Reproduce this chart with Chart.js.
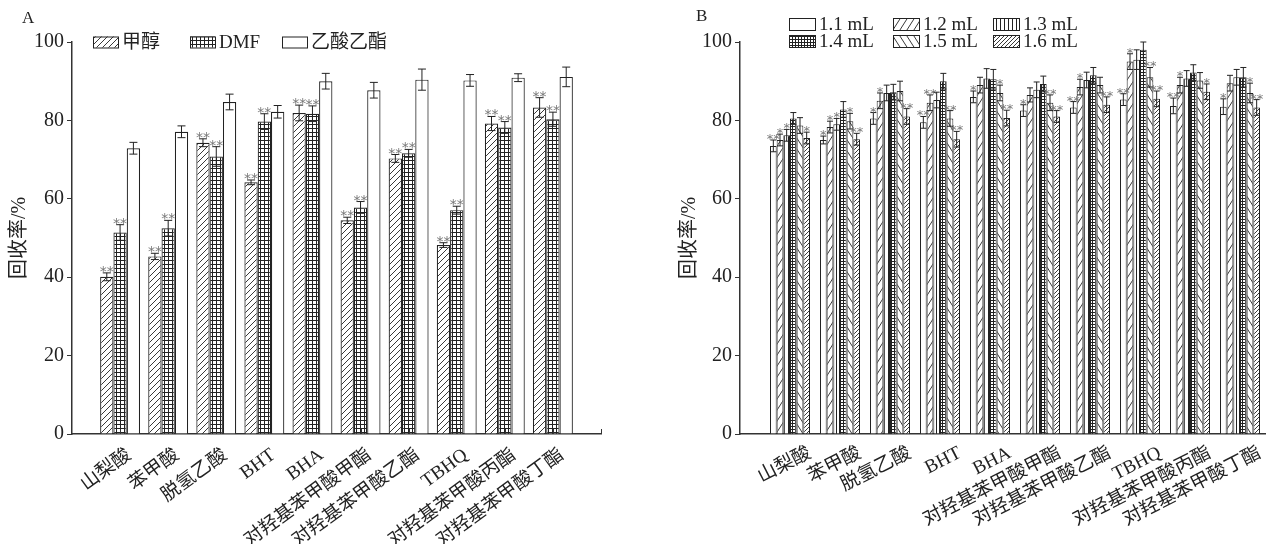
<!DOCTYPE html>
<html><head><meta charset="utf-8">
<script src="https://cdn.jsdelivr.net/npm/chart.js@4.4.1/dist/chart.umd.min.js"></script>
<style>
html,body{margin:0;padding:0;background:#fff;overflow:hidden;width:1266px;height:544px;position:relative;}
#wa{position:absolute;left:0;top:0;width:650px;height:544px;}
#wb{position:absolute;left:660px;top:0;width:680px;height:544px;}
</style></head><body>
<div id="wa"><canvas id="ca"></canvas></div>
<div id="wb"><canvas id="cb"></canvas></div>
<script>
// ---------- data ----------
const categories = ['山梨酸','苯甲酸','脱氢乙酸','BHT','BHA','对羟基苯甲酸甲酯','对羟基苯甲酸乙酯','TBHQ','对羟基苯甲酸丙酯','对羟基苯甲酸丁酯'];
const yTicks = [0, 20, 40, 60, 80, 100];

// Panel A
const seriesA = ['甲醇', 'DMF', '乙酸乙酯'];
const methanol     = [40.1, 45.3, 74.3, 64.2, 81.9, 54.5, 70.3, 48.2, 79.2, 83.3];
const methanolErr  = [1.0, 0.8, 1.0, 0.6, 2.0, 0.8, 1.0, 0.6, 1.8, 2.5];
const dmf          = [51.4, 52.5, 70.8, 79.7, 81.7, 57.8, 71.6, 57.1, 78.2, 80.3];
const dmfErr       = [2.0, 2.0, 2.5, 2.0, 2.0, 1.5, 1.0, 1.0, 1.5, 1.8];
const ethylAcetate = [72.9, 77.1, 84.7, 82.2, 90.0, 87.7, 90.4, 90.2, 90.9, 91.1];
const ethylAcetateErr = [1.5, 1.5, 2.0, 1.6, 2.0, 2.0, 2.7, 1.5, 1.0, 2.5];
const methanolStars = ['**','**','**','**','**','**','**','**','**','**'];
const dmfStars      = ['**','**','**','**','**','**','**','**','**','**'];
const ethylAcetateStars = ['','','','','','','','','',''];

// Panel B
const seriesB = ['1.1 mL', '1.2 mL', '1.3 mL', '1.4 mL', '1.5 mL', '1.6 mL'];
const v11 = [73.5, 75.0, 80.5, 79.5, 86.0, 82.5, 83.3, 85.3, 83.7, 83.5];
const v12 = [75.0, 78.3, 85.0, 84.5, 89.0, 86.5, 88.5, 95.0, 89.0, 89.5];
const v13 = [76.2, 79.0, 87.0, 85.2, 90.7, 87.8, 90.3, 95.5, 90.7, 91.0];
const v14 = [80.5, 82.8, 87.2, 90.0, 90.5, 89.3, 91.5, 98.0, 92.2, 91.0];
const v15 = [78.7, 79.8, 87.5, 80.5, 87.0, 84.5, 89.0, 91.0, 90.2, 87.0];
const v16 = [75.5, 75.2, 81.0, 75.2, 80.6, 81.0, 84.0, 85.5, 87.3, 83.3];
const e11 = [1.5, 1.0, 1.5, 1.5, 1.5, 1.5, 1.5, 1.5, 2.0, 2.0];
const e12 = [1.5, 1.5, 2.0, 2.0, 2.0, 1.8, 2.0, 2.0, 2.0, 2.0];
const e13 = [1.5, 1.5, 2.0, 2.0, 2.5, 2.0, 2.0, 2.5, 2.0, 2.0];
const e14 = [1.5, 2.0, 2.0, 2.0, 2.5, 2.0, 2.0, 2.0, 2.0, 2.5];
const e15 = [2.0, 2.0, 2.5, 2.0, 2.0, 2.0, 2.0, 2.5, 2.0, 2.5];
const e16 = [1.5, 1.5, 2.0, 2.0, 2.0, 1.5, 2.0, 2.0, 2.0, 2.0];
const s11 = ['**','*','*','**','*','*','**','**','**','*'];
const s12 = ['*','*','*','**','','','*','*','*',''];
const s13 = ['*','*','','','','','','','',''];
const s14 = ['','','','','','','','','',''];
const s15 = ['','*','','**','*','**','','**','','*'];
const s16 = ['*','**','**','**','**','**','**','**','*','**'];

// ---------- helpers ----------
const FONT = '"Liberation Serif", "Noto Sans CJK SC", serif';
Chart.defaults.font.family = FONT;
Chart.defaults.color = '#222';

function pad(arr, fill) { return [fill].concat(arr, [fill]); }

function makePattern(ctx, type) {
  const t = document.createElement('canvas');
  let w = 6, h = 6;
  if (type === 'slash') { w = 6; h = 6; }
  if (type === 'dslash') { w = 4; h = 4; }
  if (type === 'grid') { w = 4; h = 4; }
  if (type === 'grid3') { w = 3; h = 3; }
  if (type === 'steep') { w = 7; h = 11; }
  if (type === 'back') { w = 7; h = 11; }
  if (type === 'vert') { w = 4; h = 4; }
  t.width = w; t.height = h;
  const c = t.getContext('2d');
  c.fillStyle = '#fff'; c.fillRect(0, 0, w, h);
  c.strokeStyle = '#222'; c.lineWidth = 0.9;
  c.beginPath();
  if (type === 'slash' || type === 'dslash' || type === 'steep') {
    c.moveTo(-w, 2 * h); c.lineTo(2 * w, -h);
    c.moveTo(-2 * w, 2 * h); c.lineTo(w, -h);
    c.moveTo(0, 2 * h); c.lineTo(3 * w, -h);
  } else if (type === 'back') {
    c.moveTo(-w, -h); c.lineTo(2 * w, 2 * h);
    c.moveTo(-2 * w, -h); c.lineTo(w, 2 * h);
    c.moveTo(0, -h); c.lineTo(3 * w, 2 * h);
  } else if (type === 'grid' || type === 'grid3') {
    c.lineWidth = 1;
    c.moveTo(0.5, 0); c.lineTo(0.5, h);
    c.moveTo(0, 0.5); c.lineTo(w, 0.5);
  } else if (type === 'vert') {
    c.lineWidth = 1;
    c.moveTo(0.5, 0); c.lineTo(0.5, h);
  }
  c.stroke();
  return ctx.createPattern(t, 'repeat');
}

function decorPlugin(cfg) {
  return {
    id: 'decor',
    afterDatasetsDraw(chart) {
      const ctx = chart.ctx, ys = chart.scales.y;
      chart.data.datasets.forEach((ds, di) => {
        const meta = chart.getDatasetMeta(di);
        meta.data.forEach((bar, i) => {
          const v = ds.data[i];
          if (v == null) return;
          const e = ds.errors[i] || 0;
          const x = bar.x;
          const yt = ys.getPixelForValue(v + e), yb = ys.getPixelForValue(v - e);
          ctx.save();
          ctx.strokeStyle = '#222'; ctx.lineWidth = 1;
          ctx.beginPath();
          ctx.moveTo(x, yt); ctx.lineTo(x, yb);
          ctx.moveTo(x - cfg.cap, yt); ctx.lineTo(x + cfg.cap, yt);
          ctx.moveTo(x - cfg.cap, yb); ctx.lineTo(x + cfg.cap, yb);
          ctx.stroke();
          const s = ds.stars[i];
          if (s) {
            ctx.fillStyle = '#777';
            ctx.font = cfg.starFont;
            ctx.textAlign = 'center';
            ctx.textBaseline = 'alphabetic';
            ctx.fillText(s, x, yt + cfg.starDy);
          }
          ctx.restore();
        });
      });
    },
    afterDraw(chart) {
      const ctx = chart.ctx;
      ctx.save();
      ctx.fillStyle = '#222';
      ctx.font = '17px ' + FONT;
      ctx.textAlign = 'left'; ctx.textBaseline = 'top';
      ctx.fillText(cfg.letter, cfg.letterX, cfg.letterY);
      ctx.font = cfg.legendFont;
      ctx.textBaseline = 'middle';
      chart.data.datasets.forEach((ds, di) => {
        const p = cfg.legendPos[di];
        ctx.fillStyle = ds.backgroundColor;
        ctx.fillRect(p[0], p[1] - cfg.boxH / 2, cfg.boxW, cfg.boxH);
        ctx.strokeStyle = '#222'; ctx.lineWidth = 1;
        ctx.strokeRect(p[0] + 0.5, p[1] - cfg.boxH / 2 + 0.5, cfg.boxW, cfg.boxH);
        ctx.fillStyle = '#222';
        ctx.fillText(ds.label, p[0] + cfg.boxW + 4, p[1] + 1);
      });
      if (cfg.inTicks) {
        const xs = chart.scales.x, b = chart.chartArea.bottom;
        ctx.strokeStyle = '#333'; ctx.lineWidth = 1;
        ctx.beginPath();
        for (let i = 1; i < xs.ticks.length; i++) {
          const x = Math.round(xs.getPixelForTick(i)) + 0.5;
          ctx.moveTo(x, b); ctx.lineTo(x, b - 5);
        }
        ctx.stroke();
      }
      ctx.restore();
    }
  };
}

function baseOptions(o) {
  return {
    responsive: true,
    maintainAspectRatio: false,
    animation: false,
    events: [],
    layout: { padding: { left: 0, right: o.padRight, top: 42, bottom: 0 } },
    plugins: { legend: { display: false }, tooltip: { enabled: false } },
    datasets: { bar: { barPercentage: 1.0, categoryPercentage: o.catPct } },
    scales: {
      x: {
        type: 'category',
        offset: false,
        grid: { display: true, drawOnChartArea: false, drawTicks: false, color: '#333' },
        border: { display: true, color: '#333', width: 1.5 },
        ticks: {
          autoSkip: false, maxRotation: o.rot, minRotation: o.rot,
          padding: o.labelPad, labelOffset: o.labelOffset,
          font: { size: o.xFont }, color: '#222'
        },
        afterFit(s) { s.height = o.xH; }
      },
      y: {
        min: 0, max: 100,
        afterBuildTicks(s) { s.ticks = yTicks.map(v => ({ value: v })); },
        grid: { drawOnChartArea: false, drawTicks: true, tickLength: 5, color: '#333' },
        border: { display: true, color: '#333', width: 1.5 },
        ticks: { padding: 3, font: { size: 20 }, color: '#222' },
        title: { display: true, text: '回收率/%', font: { size: 20 }, color: '#222', padding: { top: o.titlePad, bottom: 0 } },
        afterFit(s) { s.width = o.yW; }
      }
    }
  };
}

// ---------- Chart A ----------
const ctxA = document.getElementById('ca').getContext('2d');
const patA = [makePattern(ctxA, 'slash'), makePattern(ctxA, 'grid'), '#fff'];
const valsA = [methanol, dmf, ethylAcetate];
const errsA = [methanolErr, dmfErr, ethylAcetateErr];
const starsA = [methanolStars, dmfStars, ethylAcetateStars];
new Chart(ctxA, {
  type: 'bar',
  data: {
    labels: pad(categories, ''),
    datasets: seriesA.map((name, k) => ({
      label: name,
      data: pad(valsA[k], null),
      errors: pad(errsA[k], 0),
      stars: pad(starsA[k], ''),
      backgroundColor: patA[k],
      borderColor: '#222',
      borderWidth: 1.2
    }))
  },
  options: baseOptions({ yW: 72, xH: 110, padRight: 49, catPct: 0.83, rot: 36, labelPad: 10, labelOffset: 9, xFont: 19, titlePad: 8 }),
  plugins: [decorPlugin({
    cap: 4, starFont: '14px "DejaVu Sans", sans-serif', starDy: 3,
    letter: 'A', letterX: 22, letterY: 10,
    legendFont: '19px ' + FONT, boxW: 25, boxH: 11,
    legendPos: [[93, 42], [190, 42], [282, 42]],
    inTicks: true
  })]
});

// ---------- Chart B ----------
const ctxB = document.getElementById('cb').getContext('2d');
const patB = ['#fff', makePattern(ctxB, 'steep'), makePattern(ctxB, 'vert'), makePattern(ctxB, 'grid3'), makePattern(ctxB, 'back'), makePattern(ctxB, 'dslash')];
const valsB = [v11, v12, v13, v14, v15, v16];
const errsB = [e11, e12, e13, e14, e15, e16];
const starsB = [s11, s12, s13, s14, s15, s16];
new Chart(ctxB, {
  type: 'bar',
  data: {
    labels: pad(categories, ''),
    datasets: seriesB.map((name, k) => ({
      label: name,
      data: pad(valsB[k], null),
      errors: pad(errsB[k], 0),
      stars: pad(starsB[k], ''),
      backgroundColor: patB[k],
      borderColor: '#222',
      borderWidth: 1
    }))
  },
  options: (function () {
    const o = baseOptions({ yW: 80, xH: 110, padRight: 50, catPct: 0.8, rot: 27, labelPad: 8, labelOffset: 20, xFont: 19, titlePad: 18 });
    o.scales.x.grid.display = false;
    return o;
  })(),
  plugins: [decorPlugin({
    cap: 3, starFont: '13px "DejaVu Sans", sans-serif', starDy: 3,
    letter: 'B', letterX: 36, letterY: 8,
    legendFont: '19px ' + FONT, boxW: 26, boxH: 12,
    legendPos: [[129, 24], [233, 24], [333, 24], [129, 41], [233, 41], [333, 41]],
    inTicks: false
  })]
});
</script>
</body></html>
